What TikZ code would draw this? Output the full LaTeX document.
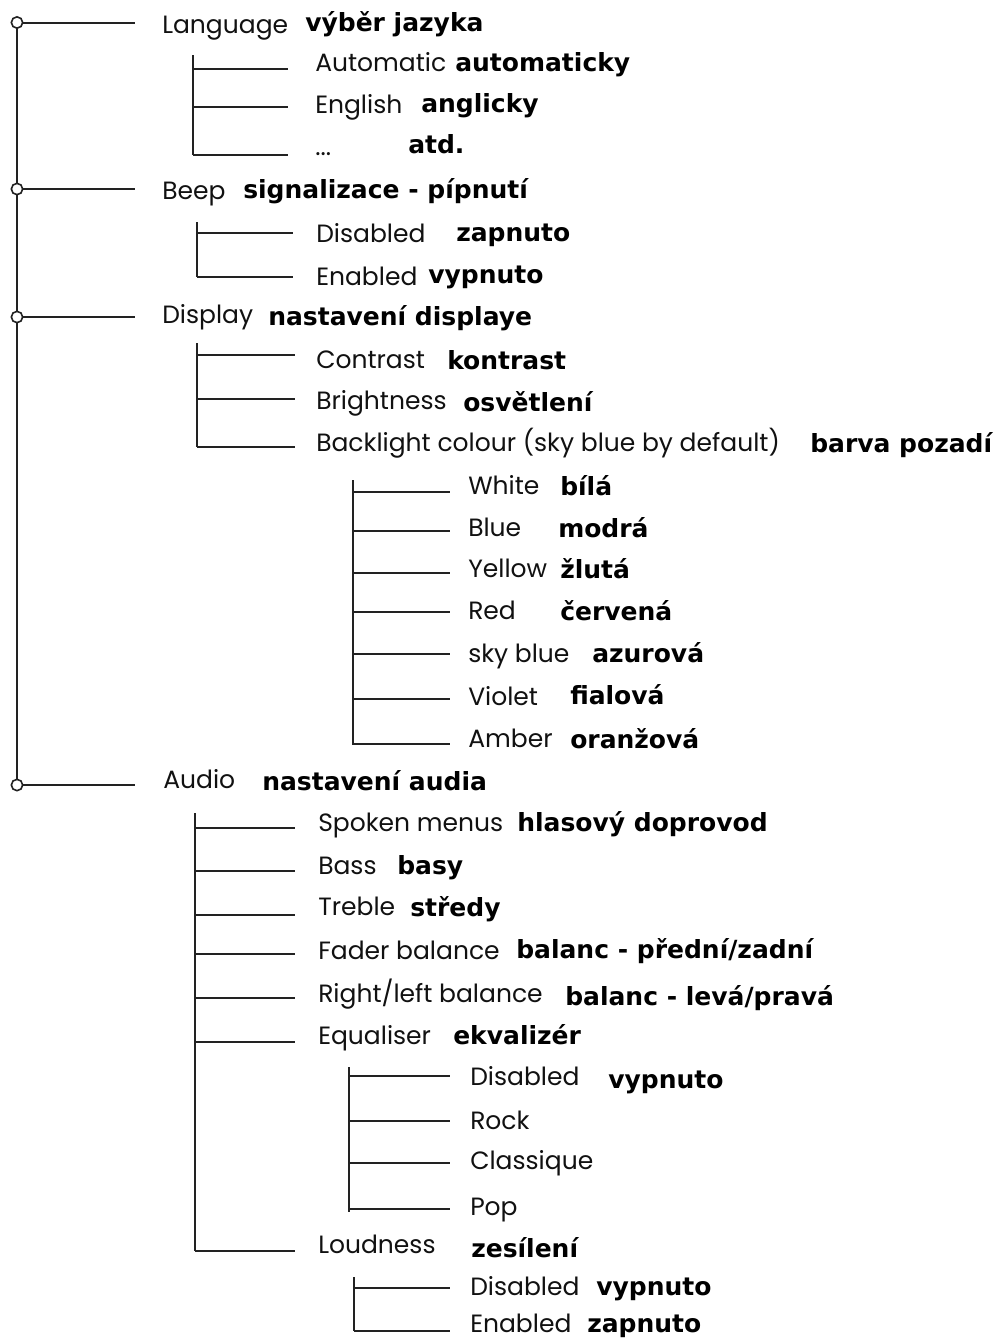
\documentclass[tikz,border=0pt]{standalone}
\usepackage{fontspec}
\newfontfamily\engfont{Poppins}
\newfontfamily\czfont{DejaVu Sans}
\definecolor{linec}{HTML}{222222}
\definecolor{engc}{HTML}{111111}
\tikzset{
  en/.style={anchor=west, inner sep=0pt, text height=13pt, text depth=0pt,
    font=\engfont\fontsize{18.75pt}{20pt}\selectfont, text=engc},
  cz/.style={anchor=west, inner sep=0pt, text height=13pt, text depth=0pt,
    font=\czfont\bfseries\fontsize{18.75pt}{20pt}\selectfont, text=black},
  tree/.style={line width=1.5pt, draw=linec},
  knot/.style={circle, draw=linec, fill=white, line width=1.2pt, inner sep=0pt, minimum size=8.5pt}
}
\begin{document}
\begin{tikzpicture}[x=0.75pt, y=-0.75pt]
\useasboundingbox[fill=white] (0,0) rectangle (1000,1340);

% ---------- coordinates: bars ----------
\coordinate (B0t) at (17,22.5);   \coordinate (B0b) at (17,785);
\coordinate (B1t) at (193,55);    \coordinate (B1b) at (193,155);
\coordinate (B2t) at (197,222);   \coordinate (B2b) at (197,277);
\coordinate (B3t) at (197,343);   \coordinate (B3b) at (197,447);
\coordinate (B4t) at (353,480);   \coordinate (B4b) at (353,745);
\coordinate (B5t) at (195,813);   \coordinate (B5b) at (195,1251);
\coordinate (B6t) at (349,1067);  \coordinate (B6b) at (349,1212);
\coordinate (B7t) at (354,1277);  \coordinate (B7b) at (354,1331);

% ---------- coordinates: branch ends ----------
\coordinate (Elang) at (135,22.5);
\coordinate (Ebeep) at (135,189);
\coordinate (Edisp) at (135,317);
\coordinate (Eaudio) at (135,785);

\coordinate (Eauto) at (288,69);
\coordinate (Eengl) at (288,107);
\coordinate (Eetc) at (288,155);

\coordinate (Ebdis) at (293,233);
\coordinate (Ebena) at (293,277);

\coordinate (Econtr) at (295,355);
\coordinate (Ebright) at (295,399);
\coordinate (Eback) at (295,447);

\coordinate (Ewhite) at (450,492);
\coordinate (Eblue) at (450,531);
\coordinate (Eyellow) at (450,573);
\coordinate (Ered) at (450,612);
\coordinate (Esky) at (450,654);
\coordinate (Eviolet) at (450,699);
\coordinate (Eamber) at (450,744);

\coordinate (Espoken) at (295,828);
\coordinate (Ebass) at (295,871);
\coordinate (Etreble) at (295,915);
\coordinate (Efader) at (295,954);
\coordinate (Erl) at (295,998);
\coordinate (Eeq) at (295,1042);
\coordinate (Eloud) at (295,1251);

\coordinate (Eedis) at (450,1076);
\coordinate (Erock) at (450,1121);
\coordinate (Eclass) at (450,1163);
\coordinate (Epop) at (450,1209);

\coordinate (Eldis) at (450,1288);
\coordinate (Elena) at (450,1331);

% ---------- connectors ----------
\draw[tree] (B0t) -- (B0b);
\draw[tree] (B1t) -- (B1b);
\draw[tree] (B2t) -- (B2b);
\draw[tree] (B3t) -- (B3b);
\draw[tree] (B4t) -- (B4b);
\draw[tree] (B5t) -- (B5b);
\draw[tree] (B6t) -- (B6b);
\draw[tree] (B7t) -- (B7b);

\foreach \e in {Elang,Ebeep,Edisp,Eaudio} \draw[tree] (B0t |- \e) -- (\e);
\foreach \e in {Eauto,Eengl,Eetc} \draw[tree] (B1t |- \e) -- (\e);
\foreach \e in {Ebdis,Ebena} \draw[tree] (B2t |- \e) -- (\e);
\foreach \e in {Econtr,Ebright,Eback} \draw[tree] (B3t |- \e) -- (\e);
\foreach \e in {Ewhite,Eblue,Eyellow,Ered,Esky,Eviolet,Eamber} \draw[tree] (B4t |- \e) -- (\e);
\foreach \e in {Espoken,Ebass,Etreble,Efader,Erl,Eeq,Eloud} \draw[tree] (B5t |- \e) -- (\e);
\foreach \e in {Eedis,Erock,Eclass,Epop} \draw[tree] (B6t |- \e) -- (\e);
\foreach \e in {Eldis,Elena} \draw[tree] (B7t |- \e) -- (\e);

\foreach \e in {Elang,Ebeep,Edisp,Eaudio} \node[knot] (K\e) at (B0t |- \e) {};

% ---------- texts: level 0 ----------
\node[en] (Tlang) at (162,25) {Language};
\node[cz] (Clang) at (305,23) {výběr jazyka};
\node[en] (Tbeep) at (162,190.5) {Beep};
\node[cz] (Cbeep) at (243,190) {signalizace - pípnutí};
\node[en] (Tdisp) at (162,315) {Display};
\node[cz] (Cdisp) at (268,317) {nastavení displaye};
\node[en] (Taudio) at (163,780) {Audio};
\node[cz] (Caudio) at (262,782) {nastavení audia};

% Language
\node[en] (Tauto) at (315,63) {Automatic};
\node[cz] (Cauto) at (455,63) {automaticky};
\node[en] (Tengl) at (315,105) {English};
\node[cz] (Cengl) at (421,104) {anglicky};
\node[en] (Tetc) at (315,147) {...};
\node[cz] (Cetc) at (408,145) {atd.};

% Beep
\node[en] (Tbdis) at (316,233.5) {Disabled};
\node[cz] (Cbdis) at (456,233) {zapnuto};
\node[en] (Tbena) at (316,276.5) {Enabled};
\node[cz] (Cbena) at (428,275) {vypnuto};

% Display
\node[en] (Tcontr) at (316,360) {Contrast};
\node[cz] (Ccontr) at (447,361) {kontrast};
\node[en] (Tbright) at (316,401) {Brightness};
\node[cz] (Cbright) at (463,403) {osvětlení};
\node[en] (Tback) at (316,442.5) {Backlight colour (sky blue by default)};
\node[cz] (Cback) at (810,444) {barva pozadí};

% Backlight colours
\node[en] (Twhite) at (468,486) {White};
\node[cz] (Cwhite) at (560,487) {bílá};
\node[en] (Tblue) at (468,527.5) {Blue};
\node[cz] (Cblue) at (558,529) {modrá};
\node[en] (Tyellow) at (468,569) {Yellow};
\node[cz] (Cyellow) at (560,570) {žlutá};
\node[en] (Tred) at (468,611) {Red};
\node[cz] (Cred) at (560,612) {červená};
\node[en] (Tsky) at (468,653.5) {sky blue};
\node[cz] (Csky) at (592,654) {azurová};
\node[en] (Tviolet) at (468,697) {Violet};
\node[cz] (Cviolet) at (570,696) {fialová};
\node[en] (Tamber) at (468,739) {Amber};
\node[cz] (Camber) at (570,740) {oranžová};

% Audio
\node[en] (Tspoken) at (318,823) {Spoken menus};
\node[cz] (Cspoken) at (517,823) {hlasový doprovod};
\node[en] (Tbass) at (318,866) {Bass};
\node[cz] (Cbass) at (397,866) {basy};
\node[en] (Ttreble) at (318,907) {Treble};
\node[cz] (Ctreble) at (410,908) {středy};
\node[en] (Tfader) at (318,951) {Fader balance};
\node[cz] (Cfader) at (516,950) {balanc - přední/zadní};
\node[en] (Trl) at (318,994) {Right/left balance};
\node[cz] (Crl) at (565,997) {balanc - levá/pravá};
\node[en] (Teq) at (318,1036) {Equaliser};
\node[cz] (Ceq) at (453,1036) {ekvalizér};
\node[en] (Tloud) at (318,1245) {Loudness};
\node[cz] (Cloud) at (471,1249) {zesílení};

% Equaliser
\node[en] (Tedis) at (470,1077) {Disabled};
\node[cz] (Cedis) at (608,1080) {vypnuto};
\node[en] (Trock) at (470,1121) {Rock};
\node[en] (Tclass) at (470,1161) {Classique};
\node[en] (Tpop) at (470,1207) {Pop};

% Loudness
\node[en] (Tldis) at (470,1287) {Disabled};
\node[cz] (Cldis) at (596,1287) {vypnuto};
\node[en] (Tlena) at (470,1324) {Enabled};
\node[cz] (Clena) at (587,1324) {zapnuto};
\end{tikzpicture}
\end{document}
